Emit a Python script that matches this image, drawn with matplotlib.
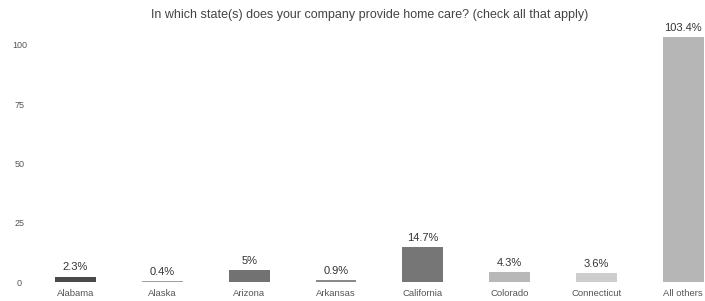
import matplotlib
matplotlib.use("Agg")
import matplotlib.pyplot as plt

categories = ["Alabama", "Alaska", "Arizona", "Arkansas", "California", "Colorado", "Connecticut", "All others"]
values = [2.3, 0.4, 5, 0.9, 14.7, 4.3, 3.6, 103.4]
value_labels = ["2.3%", "0.4%", "5%", "0.9%", "14.7%", "4.3%", "3.6%", "103.4%"]
colors = ["#4a4a4a", "#a0a0a0", "#727272", "#8a8a8a", "#767676", "#b8b8b8", "#cdcdcd", "#b6b6b6"]
yticks = [0, 25, 50, 75, 100]
title = "In which state(s) does your company provide home care? (check all that apply)"

plt.rcParams['font.family'] = ['Liberation Sans', 'DejaVu Sans']

W, H = 705, 301
fig = plt.figure(figsize=(W/100, H/100), dpi=100)
ax = fig.add_axes([32/W, (H-282)/H, (705-32)/W, (282-26)/H])

x = list(range(len(categories)))
ax.bar(x, values, width=0.47, color=colors)
for xi, v, lab in zip(x, values, value_labels):
    ax.annotate(lab, (xi, v), xytext=(0, 3), textcoords="offset points",
                ha="center", va="bottom", fontsize=8, color="#333333")

ax.set_xlim(-0.5, 7.25)
ax.set_ylim(0, 108)
ax.set_xticks(x)
ax.set_xticklabels(categories, fontsize=6.8, color="#555555")
ax.set_yticks(yticks)
ax.set_yticklabels([str(t) for t in yticks], fontsize=6.5, color="#555555", ha="center")
ax.tick_params(axis='x', length=0, pad=5)
ax.tick_params(axis='y', length=0, pad=9)
for s in ax.spines.values():
    s.set_visible(False)

fig.text(370/W, 1-15/H, title, ha="center", va="center", fontsize=9, color="#444444")

fig.savefig("out.png", dpi=100)
